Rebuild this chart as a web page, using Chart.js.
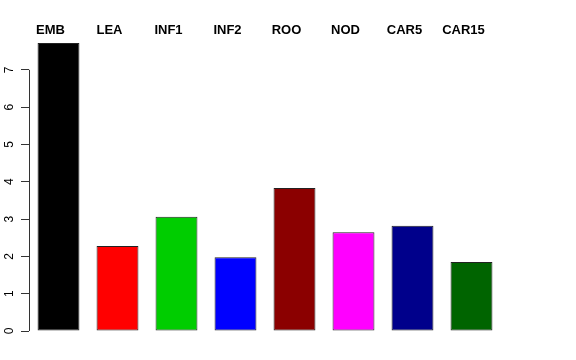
<!DOCTYPE html>
<html>
<head>
<meta charset="utf-8">
<script src="https://cdn.jsdelivr.net/npm/chart.js@4/dist/chart.umd.min.js"></script>
<style>
  body { margin: 0; background: #fff; }
  #wrap { width: 576px; height: 360px; }
</style>
</head>
<body>
<div id="wrap"><canvas id="c" width="576" height="360"></canvas></div>
<script>
var categories = ['EMB', 'LEA', 'INF1', 'INF2', 'ROO', 'NOD', 'CAR5', 'CAR15'];
var values = [7.72, 2.28, 3.06, 1.98, 3.83, 2.65, 2.82, 1.85];
var barColors = ['#000000', '#FF0000', '#00CD00', '#0000FF', '#8B0000', '#FF00FF', '#00008B', '#006400'];
var yTicks = [0, 1, 2, 3, 4, 5, 6, 7];

// R draws its axis line only from the first to the last tick
var axisLine = {
  id: 'axisLine',
  afterDraw: function (chart) {
    var y = chart.scales.y;
    var ctx = chart.ctx;
    ctx.save();
    ctx.strokeStyle = '#333';
    ctx.lineWidth = 1;
    ctx.beginPath();
    ctx.moveTo(y.right + 0.5, y.getPixelForValue(yTicks[0]));
    ctx.lineTo(y.right + 0.5, y.getPixelForValue(yTicks[yTicks.length - 1]));
    ctx.stroke();
    ctx.restore();
  }
};

new Chart(document.getElementById('c'), {
  type: 'bar',
  data: {
    labels: categories,
    datasets: [{
      data: values,
      backgroundColor: barColors,
      borderColor: '#222',
      borderWidth: 1,
      borderSkipped: false,
      barPercentage: 0.71,
      categoryPercentage: 1
    }]
  },
  options: {
    responsive: false,
    animation: false,
    layout: { padding: { left: 0, right: 75, top: 0, bottom: 29 } },
    plugins: { legend: { display: false }, tooltip: { enabled: false } },
    scales: {
      x: {
        position: 'top',
        grid: { display: false },
        border: { display: false },
        ticks: {
          color: '#000',
          font: { family: 'Liberation Sans', size: 13, weight: 'bold' },
          padding: -6,
          labelOffset: -8
        },
        afterFit: function (s) { s.height = 40; }
      },
      y: {
        min: 0,
        max: 7.8,
        grid: { drawOnChartArea: false, drawTicks: true, tickLength: 8, color: '#333' },
        border: { display: false },
        ticks: {
          color: '#000',
          font: { family: 'Liberation Sans', size: 12 },
          minRotation: 90,
          maxRotation: 90,
          crossAlign: 'center',
          padding: 8
        },
        afterBuildTicks: function (s) {
          s.ticks = yTicks.map(function (v) { return { value: v }; });
        },
        afterFit: function (s) { s.width = 29; }
      }
    }
  },
  plugins: [axisLine]
});
</script>
</body>
</html>
